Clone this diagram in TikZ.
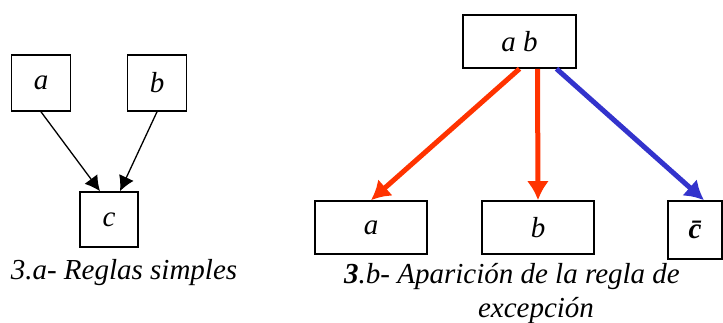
\documentclass[tikz,border=0pt]{standalone}
\usepackage{fontspec}
\setmainfont{Liberation Serif}
\usetikzlibrary{arrows.meta,positioning,calc}
\definecolor{RuleRed}{RGB}{255,51,0}
\definecolor{RuleBlue}{RGB}{51,51,204}
\newcommand{\capfont}{\fontsize{29}{34}\selectfont\itshape}

\begin{document}
\begin{tikzpicture}[
  x=1pt, y=-1pt,
  lit/.style={draw, line width=1.6pt, inner sep=0pt, font=\fontsize{29}{32}\selectfont\itshape,
    minimum width=59pt, minimum height=56pt},
  wide/.style={lit, minimum width=112pt, minimum height=53pt},
  caption/.style={font=\capfont, inner sep=0pt, align=center},
  simple/.style={-{Latex[length=15pt,width=16pt]}, line width=1.3pt, draw=black},
  rule/.style={-{Latex[length=19pt,width=22pt]}, line width=5pt, draw=RuleRed},
  except/.style={rule, draw=RuleBlue}
]
\useasboundingbox (0,0) rectangle (723,323);
% 3.a simple rules
\node[lit] (sa) at (41,83) {a};
\node[lit] (sb) at (157,83) {b};
\node[lit, minimum width=58pt, minimum height=55pt] (sc) at (109,219.5) {c};
\node[caption] (capa) at (124,273) {3.a- Reglas simples};
\draw[simple] (sa.south) -- ([xshift=-9pt]sc.north);
\draw[simple] (sb.south) -- ([xshift=11pt]sc.north);
% 3.b exception rule
\node[wide, minimum width=113pt] (rab) at (519.5,41.5) {a b};
\node[wide] (ra) at (371,227.5) {a};
\node[wide] (rb) at (538,227.5) {b};
\node[lit, minimum width=54pt, minimum height=58pt, font=\fontsize{29}{32}\selectfont\bfseries\itshape] (rc) at (695,230) {\={c}};
\node[caption] (capb) at (512,294) {\textbf{3}.b- Aparición de la regla de\\\hspace*{48pt}excepción};
\draw[rule] (rab.south) -- (ra.north);
\draw[rule] ([xshift=18pt]rab.south) -- (rb.north);
\draw[except] ([xshift=37pt]rab.south) -- ([xshift=9pt]rc.north);
\end{tikzpicture}
\end{document}
